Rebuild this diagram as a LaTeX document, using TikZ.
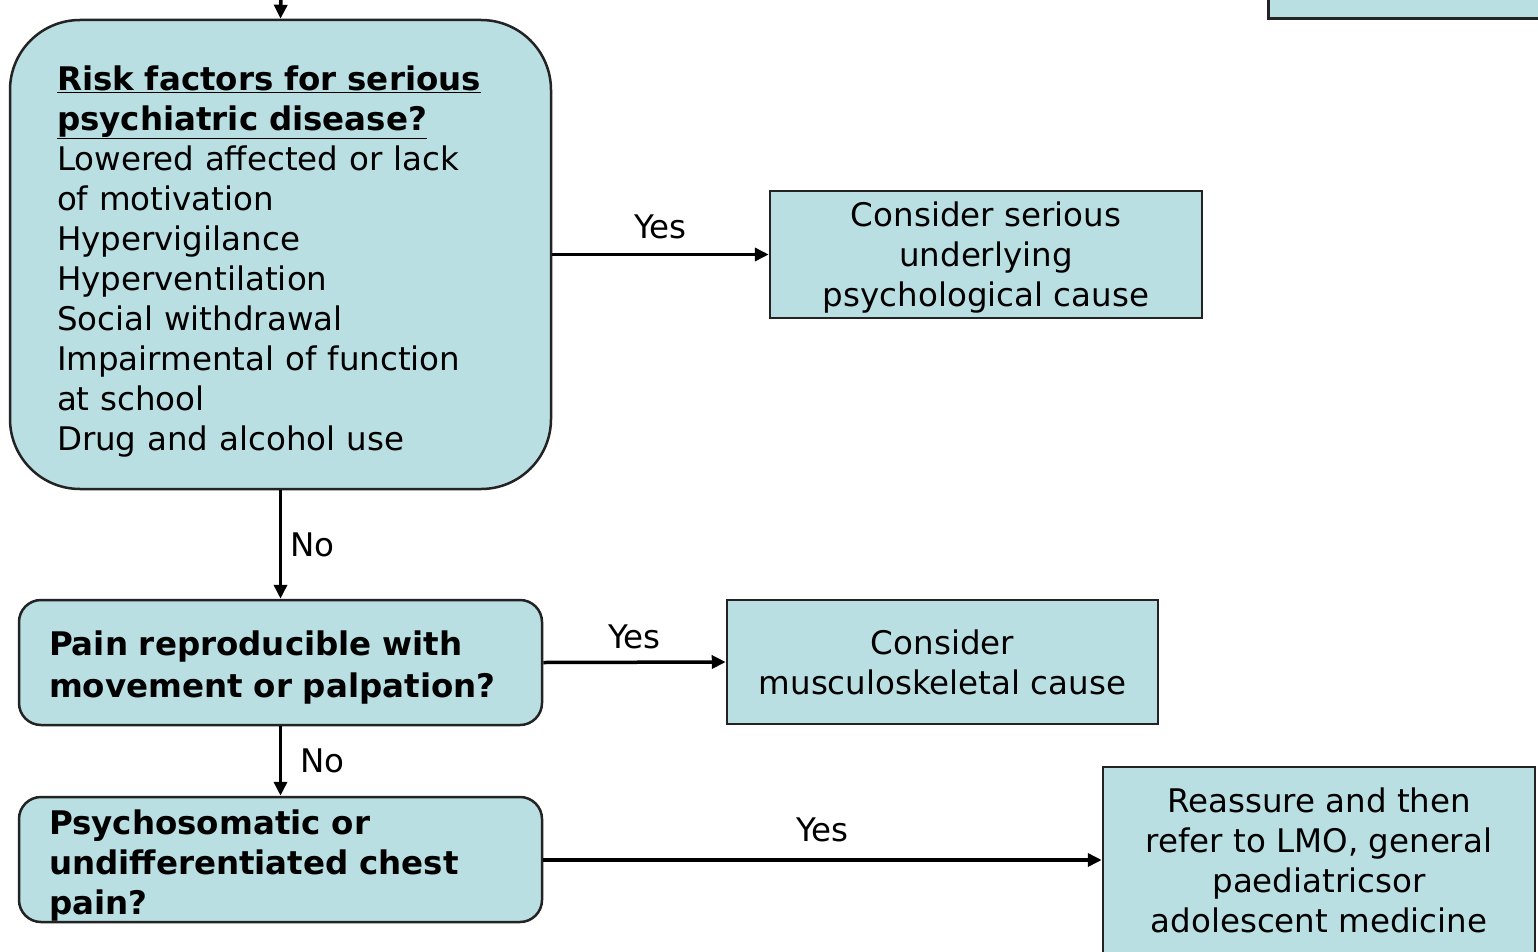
\documentclass[tikz,border=0pt]{standalone}
\usepackage{fontspec}
\setmainfont{DejaVu Sans}
\usetikzlibrary{arrows.meta}
\definecolor{boxfill}{RGB}{185,223,226}
\definecolor{boxline}{RGB}{35,35,35}
\tikzset{
  base/.style={draw=boxline, line width=2.5pt, fill=boxfill, inner sep=0pt,
    font=\fontsize{32.5}{40}\selectfont},
  rbox/.style={base, rounded corners=#1, align=left},
  sbox/.style={base, align=center},
  conn/.style={line width=3.5pt, -{Triangle[length=14pt,width=13pt]}},
  lbl/.style={font=\fontsize{32.5}{38}\selectfont, inner sep=0pt}
}
\newcommand{\upst}[1]{\rule{0pt}{#1}}
\begin{document}
\begin{tikzpicture}[x=1pt,y=-1pt]
\useasboundingbox (0,0) rectangle (1538,952);
% partial box at top right
\node[sbox, minimum width=280pt, minimum height=40pt, anchor=south west] (top) at (1267,20) {};
\coordinate (in) at (281,-10);

\node[rbox=70pt, minimum width=541pt, minimum height=469pt, text width=447pt] (q1) at (280.5,254.5)
{\upst{38pt}\textbf{\underline{Risk factors for serious}}\\
 \textbf{\underline{psychiatric disease?}}\\
 Lowered affected or lack\\
 of motivation\\
 Hypervigilance\\
 Hyperventilation\\
 Social withdrawal\\
 Impairmental of function\\
 at school\\
 Drug and alcohol use};

\node[sbox, minimum width=432pt, minimum height=127pt] (a1) at (986,254.5)
{\upst{31pt}Consider serious\\ underlying\\ psychological cause};

\node[rbox=22pt, minimum width=523pt, minimum height=125pt, text width=463pt] (q2) at (280.5,662.5)
{\upst{35pt}\textbf{Pain reproducible with}\\[2pt] \textbf{movement or palpation?}};

\node[sbox, minimum width=431pt, minimum height=124pt] (a2) at (942.5,662)
{Consider\\ musculoskeletal cause};

\node[rbox=22pt, minimum width=523pt, minimum height=125pt, text width=463pt] (q3) at (280.5,859.5)
{\upst{37pt}\textbf{Psychosomatic or}\\ \textbf{undifferentiated chest}\\ \textbf{pain?}};

\node[sbox, minimum width=432pt, minimum height=186pt] (a3) at (1319,860)
{Reassure and then\\ refer to LMO, general\\ paediatricsor\\ adolescent medicine};

\draw[conn] (in) -- (q1.north);
\draw[conn] (q1.east |- a1.west) -- (a1.west) node[lbl, midway, above=14pt] {Yes};
\draw[conn] (q1.south) -- (q2.north) node[lbl, midway, right=8pt] {No};
\draw[conn] (q2.east) -- (a2.west) node[lbl, midway, above=12pt] {Yes};
\draw[conn] (q2.south) -- (q3.north) node[lbl, midway, right=18pt] {No};
\draw[conn] (q3.east |- a3.west) -- (a3.west) node[lbl, midway, above=16pt] {Yes};
\end{tikzpicture}
\end{document}
